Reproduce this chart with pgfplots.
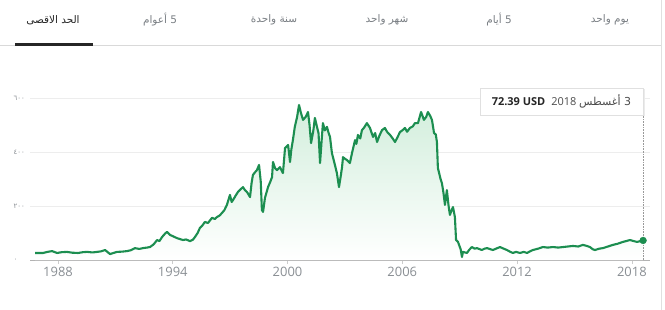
\documentclass[border=0pt]{standalone}
\usepackage{fontspec}
\setmainfont{Open Sans}
\newfontfamily\arabicfont[Script=Arabic]{DejaVu Sans}
\TeXXeTstate=1
\usepackage{pgfplots}
\usepackage{pgfplotstable}
\pgfplotsset{compat=1.18}

\definecolor{gline}{HTML}{1C8E50}
\definecolor{gfill}{HTML}{D2EEDC}
\definecolor{tabgray}{HTML}{7A7F84}
\definecolor{tickgray}{HTML}{8A8F94}

% weekly-ish closes (year, USD)
\pgfplotstableread{
x y
1986.80 26
1987.22 26
1987.45 30
1987.69 33
1987.95 26
1988.20 29
1988.47 30
1988.75 27
1989.05 26
1989.30 29
1989.52 30
1989.80 28
1990.04 30
1990.25 32
1990.46 37
1990.72 22
1990.90 26
1991.08 30
1991.35 31
1991.61 33
1991.80 36
1992.02 44
1992.25 41
1992.44 44
1992.65 46
1992.81 48
1993.00 58
1993.18 74
1993.30 70
1993.44 85
1993.60 98
1993.70 104
1993.85 93
1994.01 88
1994.22 81
1994.40 77
1994.53 74
1994.70 76
1994.90 70
1995.05 75
1995.16 85
1995.30 100
1995.42 119
1995.55 128
1995.68 141
1995.84 137
1996.05 156
1996.20 152
1996.31 159
1996.45 165
1996.57 174
1996.70 185
1996.83 204
1996.99 241
1997.08 215
1997.15 222
1997.30 240
1997.41 252
1997.55 262
1997.67 270
1997.78 258
1997.88 252
1998.04 233
1998.12 285
1998.19 315
1998.30 325
1998.40 333
1998.51 352
1998.60 290
1998.66 185
1998.72 178
1998.82 230
1998.98 270
1999.10 290
1999.19 307
1999.24 363
1999.35 340
1999.45 333
1999.60 344
1999.70 330
1999.76 322
1999.87 415
2000.03 426
2000.13 363
2000.20 410
2000.28 444
2000.38 493
2000.50 530
2000.60 574
2000.70 545
2000.81 519
2000.95 530
2001.07 548
2001.15 500
2001.23 433
2001.35 480
2001.43 526
2001.54 493
2001.62 470
2001.70 359
2001.78 440
2001.85 507
2001.95 480
2002.06 493
2002.15 470
2002.22 456
2002.32 396
2002.45 360
2002.58 322
2002.69 270
2002.78 310
2002.85 344
2002.90 381
2003.00 375
2003.11 370
2003.26 359
2003.37 396
2003.53 444
2003.60 430
2003.68 463
2003.80 450
2003.89 481
2004.00 490
2004.15 507
2004.31 489
2004.40 470
2004.47 456
2004.58 470
2004.68 437
2004.80 460
2004.94 481
2005.09 489
2005.20 475
2005.36 463
2005.50 450
2005.62 437
2005.75 455
2005.88 474
2006.00 480
2006.14 489
2006.25 475
2006.40 489
2006.55 495
2006.66 507
2006.82 507
2006.98 548
2007.05 535
2007.13 519
2007.25 530
2007.34 548
2007.45 535
2007.55 519
2007.66 470
2007.75 465
2007.81 437
2007.86 341
2008.00 300
2008.07 285
2008.15 250
2008.23 204
2008.33 259
2008.42 200
2008.49 167
2008.58 185
2008.65 196
2008.75 159
2008.81 74
2008.91 67
2009.05 40
2009.12 11
2009.17 30
2009.38 26
2009.50 38
2009.64 48
2009.78 42
2009.90 44
2010.16 37
2010.30 42
2010.43 44
2010.60 40
2010.74 37
2010.90 42
2011.11 48
2011.30 42
2011.47 37
2011.65 30
2011.78 26
2011.95 30
2012.15 26
2012.35 30
2012.52 26
2012.70 33
2012.83 37
2013.10 42
2013.35 48
2013.60 46
2013.88 48
2014.15 46
2014.40 48
2014.65 50
2014.92 52
2015.20 50
2015.44 56
2015.65 52
2015.81 48
2015.95 40
2016.07 37
2016.30 42
2016.49 44
2016.75 50
2017.01 56
2017.25 60
2017.53 67
2017.70 70
2017.90 74
2018.10 70
2018.27 67
2018.45 70
2018.59 72.39
}\prices

\begin{document}
\begin{tikzpicture}
\useasboundingbox (0,0) rectangle (665bp,310bp);
\fill[white] (0,0) rectangle (665bp,310bp);
\draw[black!12] (661bp,0) -- (661bp,310bp);

% range tabs
\draw[black!15, line width=0.8bp] (0,265bp) -- (661bp,265bp);
\fill[black!85] (15bp,264bp) rectangle (93bp,267bp);
\begin{scope}[every node/.style={font=\arabicfont\fontsize{10.5}{12}\selectfont, text=tabgray}]
\node at (610bp,290bp) {\beginR يوم واحد\endR};
\node at (499bp,290bp) {\beginR 5 أيام\endR};
\node at (387bp,290bp) {\beginR شهر واحد\endR};
\node at (274bp,290bp) {\beginR سنة واحدة\endR};
\node at (160bp,290bp) {\beginR 5 أعوام\endR};
\node[text=black!85] at (53bp,290bp) {\beginR الحد الاقصى\endR};
\end{scope}

\begin{axis}[
    at={(30bp,50bp)}, anchor=south west,
    scale only axis, width=620bp, height=162bp,
    xmin=1986.536, xmax=2018.95, ymin=0, ymax=600,
    axis lines*=left,
    x axis line style={draw=black!30, line width=0.8bp},
    y axis line style={draw=none},
    xtick={1988,1994,2000,2006,2012,2018},
    xticklabels={1988,1994,2000,2006,2012,2018},
    tick align=center, major tick length=8bp,
    xtick style={draw=black!20, line width=0.6bp},
    ytick style={draw=none},
    ytick={0,200,400,600},
    yticklabels={٠,٢٠٠,٤٠٠,٦٠٠},
    ymajorgrids, grid style={draw=black!7, line width=0.6bp},
    xticklabel style={font=\fontsize{13}{13}\selectfont, text=tickgray},
    yticklabel style={font=\arabicfont\fontsize{7}{8}\selectfont, text=tickgray, anchor=west, xshift=-16bp},
    clip=false,
]
\addplot[draw=none, top color=gfill, bottom color=white, forget plot] table[x=x,y=y] {\prices} \closedcycle;
\addplot[gline, line width=2.1bp, line join=round] table[x=x,y=y] {\prices};
\draw[densely dotted, black!40, line width=0.6bp] (axis cs:2018.59,0) -- (axis cs:2018.59,537);
\addplot[only marks, mark=*, mark size=3.4bp, gline] coordinates {(2018.59,72.39)};
\end{axis}

% tooltip
\fill[black!8] (481bp,193.5bp) rectangle (644.5bp,221bp);
\draw[black!12, fill=white] (480bp,195bp) rectangle (643bp,222bp);
\node[font=\fontsize{11}{13}\selectfont, text=black!85] at (561.5bp,208.5bp)
  {\textbf{72.39 USD}\hspace{6bp}{\color{black!70}2018 {\arabicfont\beginR 3 أغسطس\endR}}};
\end{tikzpicture}
\end{document}
